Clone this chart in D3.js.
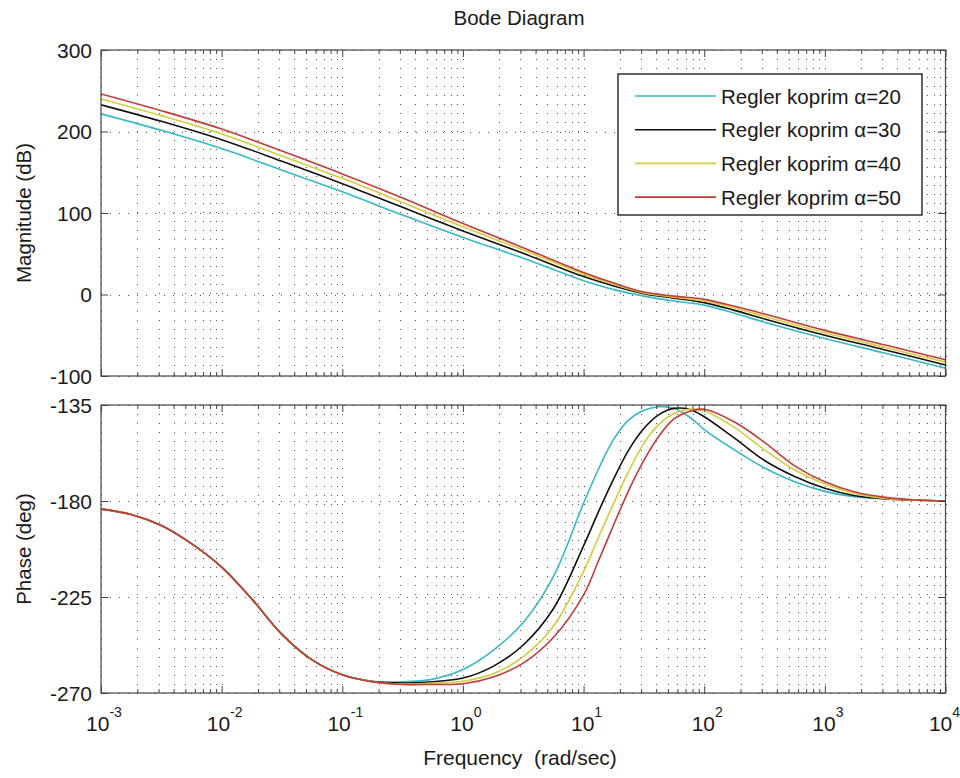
<!DOCTYPE html>
<html><head><meta charset="utf-8">
<script src="https://cdn.jsdelivr.net/npm/d3@7/dist/d3.min.js"></script>
<style>
body{margin:0;background:#fff}
svg{display:block}
text{font-family:"Liberation Sans",Arial,Helvetica,sans-serif;fill:#1a1a1a}
</style>
</head><body>
<svg id="chart" width="960" height="778"></svg>
<script>
// ---------- data ----------
const seriesNames = ["Regler koprim \u03b1=20","Regler koprim \u03b1=30","Regler koprim \u03b1=40","Regler koprim \u03b1=50"];
const seriesColors = ["#35b9c7","#111111","#d6cc3c","#c53a3a"];

const magFreq = [0.001,0.00316,0.01,0.0316,0.1,0.316,1,3.16,10,17.8,31.6,56.2,100,178,316,1000,3162,10000];
const magA20 = [221.7,201.5,179,152.5,126,97.5,70,44.5,17,6,-2,-8,-13,-23,-34,-54,-72,-90.5];
const magA30 = [232.7,212.5,190,163.5,136,107,78,50.5,22,10.5,1,-4.5,-10,-19.5,-30,-50,-68,-86.5];
const magA40 = [240,219.5,197,170,142.5,113,83,54.5,25,12.5,2,-3.2,-8,-16.5,-27,-47,-65,-83];
const magA50 = [246,225.5,203,176,148,118.5,87,57.5,27,14,3,-2,-6,-14.5,-24,-44,-62,-80];

const phaseFreq = [0.001,0.00178,0.00316,0.00562,0.01,0.0178,0.0316,0.0562,0.1,0.178,0.316,0.562,1,1.78,3.16,5.62,10,13.3,17.8,23.7,31.6,42.2,56.2,75,100,178,316,562,1000,1778,3162,5623,10000];
const phaseA20 = [-183.8,-186.3,-191.5,-200,-211,-226,-242.5,-254.5,-261.5,-264.5,-264.8,-263.5,-259,-250,-237,-215.5,-181,-165,-151,-142,-137.5,-135.8,-136.5,-140.5,-146.5,-156,-164.5,-171,-175.5,-178,-179,-179.6,-180];
const phaseA30 = [-183.8,-186.3,-191.5,-200,-211,-226,-242.5,-254.5,-261.5,-264.6,-265.3,-264.7,-263,-257.5,-247.5,-230.5,-201,-185,-169.5,-156,-146,-139.5,-136.6,-137,-140.5,-150.5,-161,-168.5,-174,-177.5,-179,-179.6,-180];
const phaseA40 = [-183.8,-186.3,-191.5,-200,-211,-226,-242.5,-254.5,-261.5,-264.7,-265.8,-265.5,-264.5,-261,-253,-238.7,-213,-197,-181,-166,-153,-144,-139,-137,-137.8,-145.5,-156,-165.5,-172,-176.5,-178.8,-179.6,-180];
const phaseA50 = [-183.8,-186.3,-191.5,-200,-211,-226,-242.5,-254.5,-261.5,-264.8,-266,-266,-265.7,-262.5,-256,-244,-224,-208,-191,-175,-161,-149.5,-141.5,-138,-137,-143,-152.5,-163.5,-171,-175.8,-178.3,-179.5,-180];

const magTicks = [-100,0,100,200,300];
const phaseTicks = [-270,-225,-180,-135];
const decadeExps = [-3,-2,-1,0,1,2,3,4];

const titleText = "Bode Diagram";
const xLabelText = "Frequency  (rad/sec)";
const magLabelText = "Magnitude (dB)";
const phaseLabelText = "Phase (deg)";

// ---------- layout ----------
const svg = d3.select("#chart");
const L = 101, R = 945.5;
const magTop = 50, magBot = 376;
const phTop = 405, phBot = 693;

const x = d3.scaleLog().domain([1e-3,1e4]).range([L,R]);
const yMag = d3.scaleLinear().domain([-100,300]).range([magBot,magTop]);
const yPh = d3.scaleLinear().domain([-270,-135]).range([phBot,phTop]);

const majorX = decadeExps.map(e => Math.pow(10,e));
const minorX = [];
for (let e=-3; e<4; e++) for (let k=2; k<=9; k++) minorX.push(k*Math.pow(10,e));
const allX = majorX.concat(minorX);

const magSeries = [magA20,magA30,magA40,magA50];
const phSeries = [phaseA20,phaseA30,phaseA40,phaseA50];

function panel(y, top, bot, ticks, freq, series, id) {
  const g = svg.append("g");
  // grid
  const grid = g.append("g").attr("stroke","#555").attr("stroke-width",1).attr("stroke-dasharray","1,8");
  grid.selectAll("line.v").data(allX).join("line")
    .attr("x1",d=>Math.round(x(d))+0.5).attr("x2",d=>Math.round(x(d))+0.5)
    .attr("y1",top).attr("y2",bot);
  grid.selectAll("line.h").data(ticks).join("line")
    .attr("x1",L).attr("x2",R)
    .attr("y1",d=>Math.round(y(d))+0.5).attr("y2",d=>Math.round(y(d))+0.5);

  // clip
  svg.append("clipPath").attr("id",id).append("rect")
    .attr("x",L).attr("y",top).attr("width",R-L).attr("height",bot-top);

  // lines
  const line = d3.line().x((d,i)=>x(freq[i])).y(d=>y(d)).curve(d3.curveCatmullRom.alpha(0.5));
  g.append("g").attr("clip-path",`url(#${id})`)
    .selectAll("path").data(series).join("path")
    .attr("d",d=>line(d)).attr("fill","none")
    .attr("stroke",(d,i)=>seriesColors[i]).attr("stroke-width",1.6);

  // ticks via d3 axes (inward)
  const tickStyle = sel => { sel.select(".domain").remove(); sel.selectAll("line").attr("stroke","#444"); sel.selectAll("text").remove(); };
  g.append("g").attr("transform",`translate(0,${bot})`).call(d3.axisBottom(x).tickValues(majorX).tickSize(-7)).call(tickStyle);
  g.append("g").attr("transform",`translate(0,${bot})`).call(d3.axisBottom(x).tickValues(minorX).tickSize(-4)).call(tickStyle);
  g.append("g").attr("transform",`translate(0,${top})`).call(d3.axisTop(x).tickValues(majorX).tickSize(-7)).call(tickStyle);
  g.append("g").attr("transform",`translate(0,${top})`).call(d3.axisTop(x).tickValues(minorX).tickSize(-4)).call(tickStyle);
  g.append("g").attr("transform",`translate(${L},0)`).call(d3.axisLeft(y).tickValues(ticks).tickSize(-7)).call(tickStyle);
  g.append("g").attr("transform",`translate(${R},0)`).call(d3.axisRight(y).tickValues(ticks).tickSize(-7)).call(tickStyle);

  // frame
  g.append("rect").attr("x",L).attr("y",top).attr("width",R-L).attr("height",bot-top)
    .attr("fill","none").attr("stroke","#444").attr("stroke-width",1.2);

  // y tick labels
  g.selectAll("text.yt").data(ticks).join("text")
    .attr("x",L-9).attr("y",d=>y(d)+7.5).attr("text-anchor","end")
    .attr("font-size",21).text(d=>d);
}

panel(yMag, magTop, magBot, magTicks, magFreq, magSeries, "clipMag");
panel(yPh, phTop, phBot, phaseTicks, phaseFreq, phSeries, "clipPh");

// x tick labels 10^n
decadeExps.forEach(e=>{
  const last = e === decadeExps[decadeExps.length-1];
  const t = svg.append("text").attr("x",x(Math.pow(10,e))+(last?-1:3)).attr("y",731).attr("text-anchor","middle").attr("font-size",21);
  t.append("tspan").text("10");
  t.append("tspan").attr("dy",-14).attr("font-size",14).text(e);
});

// title & labels
svg.append("text").attr("x",519).attr("y",25).attr("text-anchor","middle").attr("font-size",20.5).text(titleText);
svg.append("text").attr("x",520).attr("y",765).attr("text-anchor","middle").attr("font-size",21).style("white-space","pre").text(xLabelText);
svg.append("text").attr("transform",`translate(31,${(magTop+magBot)/2}) rotate(-90)`).attr("text-anchor","middle").attr("font-size",20.5).text(magLabelText);
svg.append("text").attr("transform",`translate(31,${(phTop+phBot)/2}) rotate(-90)`).attr("text-anchor","middle").attr("font-size",20.5).text(phaseLabelText);

// legend
const lg = svg.append("g");
const lgX = 618, lgY = 74, lgW = 304, lgH = 141;
lg.append("rect").attr("x",lgX).attr("y",lgY).attr("width",lgW).attr("height",lgH)
  .attr("fill","#fff").attr("stroke","#111").attr("stroke-width",1.3);
seriesNames.forEach((n,i)=>{
  const cy = 96 + i*33.7;
  lg.append("line").attr("x1",635).attr("x2",716).attr("y1",cy).attr("y2",cy)
    .attr("stroke",seriesColors[i]).attr("stroke-width",1.6);
  lg.append("text").attr("x",721).attr("y",cy+7.5).attr("font-size",20.5).text(n);
});
</script>
</body></html>
